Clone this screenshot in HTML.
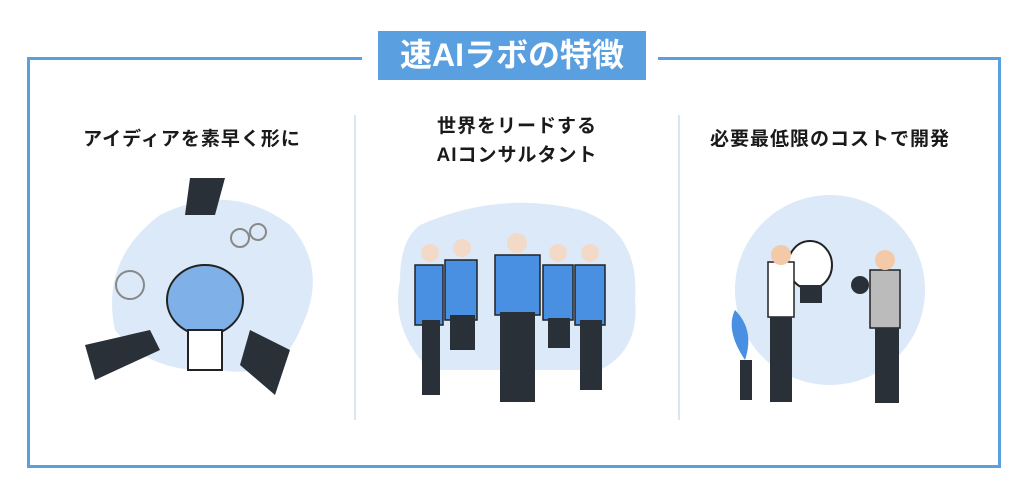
<!DOCTYPE html>
<html><head><meta charset="utf-8"><style>
body{margin:0;width:1024px;height:494px;background:#fff;overflow:hidden;position:relative;font-family:"Liberation Sans","Noto Sans CJK JP",sans-serif}
.frame{position:absolute;left:27px;top:57px;width:968px;height:405px;border:3px solid #5a9fe0;}
.title{position:absolute;left:378px;top:31px;width:268px;height:49px;background:#5a9fe0;color:#fff;font-weight:bold;font-size:32px;text-align:center;line-height:49px;letter-spacing:0px}
.gap{position:absolute;left:362px;top:50px;width:296px;height:14px;background:#fff}
.div{position:absolute;top:115px;width:2px;height:305px;background:#dbe6f3}
.h{position:absolute;font-weight:bold;font-size:19px;letter-spacing:1px;color:#1a1a1a;text-align:center;line-height:29px;width:340px}
svg{position:absolute;left:0;top:0}
</style></head><body>
<div class="frame"></div>
<div class="gap"></div>
<div class="title">速AIラボの特徴</div>
<div class="div" style="left:354px"></div>
<div class="div" style="left:678px"></div>
<div class="h" style="left:22px;top:125px">アイディアを素早く形に</div>
<div class="h" style="left:347px;top:112px">世界をリードする<br>AIコンサルタント</div>
<div class="h" style="left:660px;top:125px">必要最低限のコストで開発</div>
<svg width="1024" height="494">
<path d="M160 215 Q230 180 290 225 Q330 270 300 330 Q280 380 220 370 Q150 375 115 330 Q100 260 160 215Z" fill="#dce9f8"/>
<ellipse cx="205" cy="300" rx="38" ry="35" fill="#7fb0e8" stroke="#222" stroke-width="2"/>
<rect x="188" y="330" width="34" height="40" fill="#fff" stroke="#222" stroke-width="2"/>
<path d="M190 178 L225 178 L215 215 L185 215Z" fill="#2a3038"/>
<path d="M85 345 L150 330 L160 350 L95 380Z" fill="#2a3038"/>
<path d="M250 330 L290 350 L275 395 L240 365Z" fill="#2a3038"/>
<circle cx="130" cy="285" r="14" fill="none" stroke="#888" stroke-width="2"/>
<circle cx="240" cy="238" r="9" fill="none" stroke="#888" stroke-width="2"/>
<circle cx="258" cy="232" r="8" fill="none" stroke="#888" stroke-width="2"/>
<path d="M420 225 Q500 190 580 210 Q640 230 635 300 Q640 350 600 370 L430 370 Q390 330 400 280 Q400 240 420 225Z" fill="#dce9f8"/>
<g fill="#4a90e2" stroke="#222" stroke-width="1.5">
<rect x="415" y="265" width="28" height="60"/><rect x="445" y="260" width="32" height="60"/>
<rect x="495" y="255" width="45" height="60"/><rect x="543" y="265" width="30" height="55"/><rect x="575" y="265" width="30" height="60"/>
</g>
<g fill="#2a3038">
<rect x="422" y="320" width="18" height="75"/><rect x="450" y="315" width="25" height="35"/><rect x="500" y="312" width="35" height="90"/><rect x="548" y="318" width="22" height="30"/><rect x="580" y="320" width="22" height="70"/>
</g>
<g fill="#f3d9c8"><circle cx="430" cy="253" r="9"/><circle cx="462" cy="248" r="9"/><circle cx="517" cy="243" r="10"/><circle cx="558" cy="253" r="9"/><circle cx="590" cy="253" r="9"/></g>
<circle cx="830" cy="290" r="95" fill="#dce9f8"/>
<ellipse cx="810" cy="265" rx="22" ry="24" fill="#fff" stroke="#222" stroke-width="2"/>
<rect x="800" y="285" width="22" height="18" fill="#2a3038"/>
<rect x="768" y="262" width="26" height="55" fill="#fff" stroke="#222" stroke-width="1.5"/>
<rect x="770" y="317" width="22" height="85" fill="#2a3038"/>
<circle cx="781" cy="255" r="10" fill="#f3c9a8"/>
<rect x="870" y="270" width="30" height="58" fill="#bbb" stroke="#222" stroke-width="1.5"/>
<rect x="875" y="328" width="24" height="75" fill="#2a3038"/>
<circle cx="885" cy="260" r="10" fill="#f3c9a8"/>
<circle cx="860" cy="285" r="9" fill="#2a3038"/>
<rect x="740" y="360" width="12" height="40" fill="#2a3038"/>
<path d="M745 360 Q725 330 735 310 Q755 330 745 360Z" fill="#4a90e2"/>
</svg>
</body></html>
